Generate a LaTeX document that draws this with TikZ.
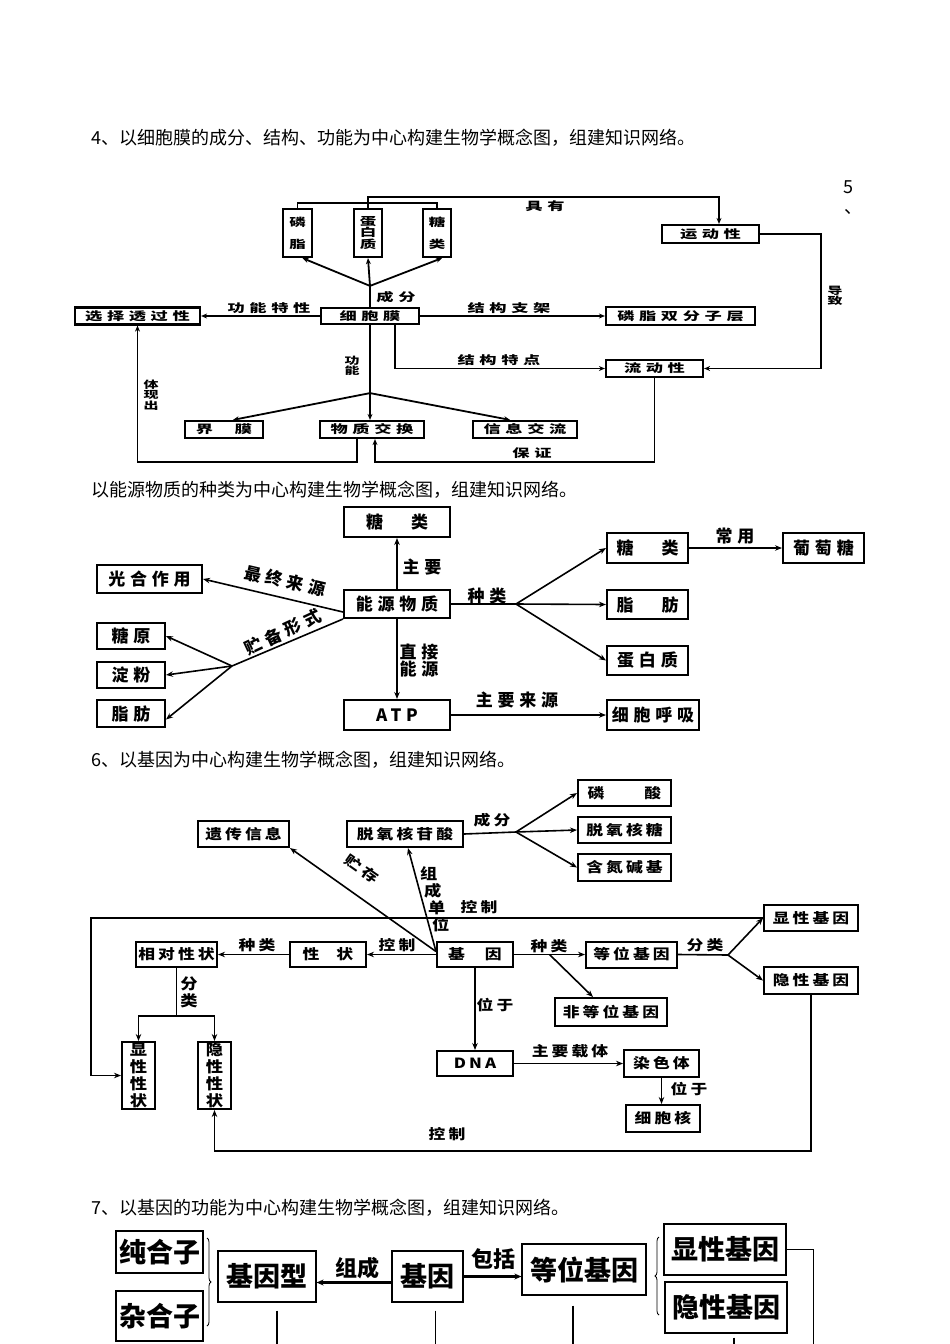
\documentclass[tikz,border=0pt]{standalone}
\usepackage{fontspec}
\setmainfont{Noto Sans CJK SC}
\newfontfamily\cjkhead{Noto Sans CJK SC}
\newfontfamily\cjkplain{Noto Sans CJK SC}
\newfontfamily\cjkfour{Noto Sans CJK SC}[LetterSpace=40, FakeStretch=1.5]
\newfontfamily\cjkfourv{Noto Sans CJK SC}[FakeStretch=1.5]
\newfontfamily\cjkfive{Noto Sans CJK SC}[LetterSpace=28]
\newfontfamily\cjksix{Noto Sans CJK SC}[LetterSpace=22, FakeStretch=1.2]
\newfontfamily\cjksixv{Noto Sans CJK SC}[FakeStretch=1.15]
\usetikzlibrary{arrows.meta,positioning,calc,decorations.pathreplacing}

\newcommand\fhead{\cjkhead\fontsize{18}{20}\selectfont}
\newcommand\ffour{\cjkfour\bfseries\fontsize{11.5}{13}\selectfont}
\newcommand\vfour{\cjkfourv\bfseries\fontsize{11}{11.7}\selectfont}
\newcommand\vsmall{\cjkfourv\bfseries\fontsize{10}{10.5}\selectfont}
\newcommand\ffive{\cjkfive\bfseries\fontsize{17}{17}\selectfont}
\newcommand\fsix{\cjksix\bfseries\fontsize{14}{16}\selectfont}
\newcommand\vsix{\cjksixv\bfseries\fontsize{15}{17}\selectfont}
\newcommand\fseven{\cjkplain\bfseries\fontsize{27}{29}\selectfont}

\tikzset{
  head/.style={inner sep=0pt, font=\fhead},
  box4/.style={draw, line width=2.2pt, inner sep=0pt, align=center, font=\ffour},
  lbl4/.style={inner sep=0pt, font=\ffour},
  vlbl4/.style={inner sep=0pt, align=center, font=\vsmall},
  line4/.style={line width=1.8pt},
  arr4/.style={line4, -{Stealth[length=6pt,width=5pt]}},
  box5/.style={draw, line width=2pt, inner sep=0pt, align=center, font=\ffive},
  lbl5/.style={inner sep=0pt, align=center, font=\ffive},
  line5/.style={line width=1.6pt},
  arr5/.style={line5, -{Stealth[length=7pt,width=5.5pt]}},
  box6/.style={draw, line width=2pt, inner sep=0pt, align=center, font=\fsix},
  box6v/.style={box6, font=\vsix},
  lbl6/.style={inner sep=0pt, font=\fsix},
  vlbl6/.style={inner sep=0pt, align=center, font=\vsix},
  line6/.style={line width=1.6pt},
  arr6/.style={line6, -{Stealth[length=7pt,width=5.5pt]}},
  box7/.style={draw, line width=1.2pt, inner sep=0pt, font=\fseven},
  lbl7/.style={inner sep=0pt, font=\cjkplain\bfseries\fontsize{22}{24}\selectfont},
  line7/.style={line width=1.5pt},
  arr7/.style={line width=2.4pt, -{Stealth[length=7pt,width=6pt]}},
  brace7/.style={decorate, decoration={brace, amplitude=4pt}, line width=0.8pt}
}

\begin{document}
\begin{tikzpicture}[x=1pt,y=-1pt]
\useasboundingbox (0,0) rectangle (950,1344);
\fill[white] (0,0) rectangle (950,1344);
\clip (0,0) rectangle (950,1344);

% headings
\node[head, anchor=west] (h4) at (91,138) {4、以细胞膜的成分、结构、功能为中心构建生物学概念图，组建知识网络。};
\node[head] (h5a) at (848,187) {5};
\node[head] (h5b) at (853,212) {、};
\node[head, anchor=west] (h5) at (91,490) {以能源物质的种类为中心构建生物学概念图，组建知识网络。};
\node[head, anchor=west] (h6) at (91,760) {6、以基因为中心构建生物学概念图，组建知识网络。};
\node[head, anchor=west] (h7) at (91,1208) {7、以基因的功能为中心构建生物学概念图，组建知识网络。};

% cell membrane
\node[box4, minimum width=29pt, minimum height=48pt, font=\vfour] (phos) at (297.5,233) {磷\\[10pt]脂};
\node[box4, minimum width=28pt, minimum height=48pt, font=\vfour] (prot) at (368,233) {蛋\\白\\质};
\node[box4, minimum width=28pt, minimum height=48pt, font=\vfour] (sugar) at (437,233) {糖\\[10pt]类};
\node[box4, minimum width=97pt, minimum height=18pt] (motion) at (710.5,234) {运动性};
\node[box4, minimum width=98pt, minimum height=16pt] (memb) at (370,316) {细胞膜};
\node[box4, minimum width=125pt, minimum height=17pt] (selperm) at (137.5,316) {选择透过性};
\node[box4, minimum width=149pt, minimum height=18pt] (bilayer) at (680.5,316) {磷脂双分子层};
\node[box4, minimum width=97pt, minimum height=17pt] (fluid) at (654.5,368.5) {流动性};
\node[box4, minimum width=78pt, minimum height=17pt] (bound) at (224,429.5) {界\hspace{22pt}膜};
\node[box4, minimum width=104pt, minimum height=17pt] (exch) at (372,429.5) {物质交换};
\node[box4, minimum width=104pt, minimum height=17pt] (info) at (525,429.5) {信息交流};

\coordinate (fan1) at ($(memb.north)+(0,-21)$);
\draw[line4] (memb.north) -- (fan1);
\draw[arr4] (fan1) -- ($(phos.south)+(5,0)$);
\draw[arr4] (fan1) -- (prot.south);
\draw[arr4] (fan1) -- ($(sugar.south)+(5,0)$);
\node[lbl4] (l4a) at (396,297) {成分};
\draw[line4] (phos.north) -- ++(0,-5) -| (sugar.north);
\coordinate (topr) at (719,197);
\draw[arr4] (prot.north) |- (topr) -- (topr |- motion.north);
\node[lbl4] (l4b) at (545,206) {具有};
\draw[arr4] (motion.east) -- ++(61,0) |- (fluid.east);
\node[vlbl4] (l4c) at (835,296) {导\\致};
\draw[arr4] (memb.west) -- (selperm.east);
\node[lbl4] (l4d) at (269,308) {功能特性};
\draw[arr4] (memb.east) -- (bilayer.west);
\node[lbl4] (l4e) at (509,308) {结构支架};
\draw[arr4] ($(memb.south)+(25,0)$) |- (fluid.west);
\node[lbl4] (l4f) at (499,360) {结构特点};
\draw[arr4] (memb.south) -- (memb.south |- exch.north);
\node[vlbl4] (l4g) at (352,366) {功\\能};
\coordinate (fan2) at ($(memb.south)+(0,68)$);
\draw[arr4] (fan2) -- ($(bound.north)+(9,0)$);
\draw[arr4] (fan2) -- ($(info.north)+(-15,0)$);
\draw[arr4] ($(exch.south)+(-15,0)$) -- ++(0,23) -| (selperm.south);
\node[vlbl4] (l4h) at (151,395) {体\\现\\出};
\draw[arr4] (fluid.south) -- ++(0,84) -| ($(exch.south)+(3,0)$);
\node[lbl4] (l4i) at (532,453) {保证};

% energy substances
\node[box5, minimum width=106pt, minimum height=30pt] (sugar5) at (397,522) {糖\hspace{28pt}类};
\node[box5, minimum width=105pt, minimum height=28pt] (photo) at (149.5,579) {光合作用};
\node[box5, minimum width=106pt, minimum height=28pt] (energy) at (397,604) {能源物质};
\node[box5, minimum width=68pt, minimum height=26pt] (glycogen) at (131,636) {糖原};
\node[box5, minimum width=68pt, minimum height=26pt] (starch) at (131,675) {淀粉};
\node[box5, minimum width=68pt, minimum height=27pt] (fat) at (131,713.5) {脂肪};
\node[box5, minimum width=106pt, minimum height=30pt] (atp) at (397,715) {ATP};
\node[box5, minimum width=81pt, minimum height=30pt] (carb) at (647.5,548) {糖\hspace{28pt}类};
\node[box5, minimum width=81pt, minimum height=30pt] (glucose) at (823.5,548) {葡萄糖};
\node[box5, minimum width=81pt, minimum height=29pt] (lipid) at (647.5,604.5) {脂\hspace{28pt}肪};
\node[box5, minimum width=81pt, minimum height=29pt] (protein) at (647.5,660.5) {蛋白质};
\node[box5, minimum width=92pt, minimum height=30pt] (resp) at (653,715) {细胞呼吸};

\draw[arr5] (energy.north) -- (sugar5.south);
\node[lbl5] (l5a) at (422,567) {主要};
\draw[arr5] ($(energy.west)+(0,8)$) -- (photo.east);
\node[lbl5, rotate=-13] (l5b) at (285,581) {最终来源};
\coordinate (fan3) at (232,666);
\draw[line5] (energy.south west) -- (fan3);
\node[lbl5, rotate=25] (l5c) at (283,632) {贮备形式};
\draw[arr5] (fan3) -- (glycogen.east);
\draw[arr5] (fan3) -- (starch.east);
\draw[arr5] (fan3) -- ($(fat.east)+(0,6)$);
\draw[arr5] (energy.south) -- (atp.north);
\node[lbl5] (l5d) at (419,661) {直接\\能源};
\coordinate (fan4) at (516,604);
\draw[line5] (energy.east) -- (fan4);
\node[lbl5] (l5e) at (487,596) {种类};
\draw[arr5] (fan4) -- (carb.west);
\draw[arr5] (fan4) -- (lipid.west);
\draw[arr5] (fan4) -- (protein.west);
\draw[arr5] (carb.east) -- (glucose.west);
\node[lbl5] (l5f) at (735,536) {常用};
\draw[arr5] (atp.east) -- (resp.west);
\node[lbl5] (l5g) at (517,700) {主要来源};

% gene
\node[box6, minimum width=91pt, minimum height=26pt] (herit) at (243.5,834) {遗传信息};
\node[box6, minimum width=116pt, minimum height=26pt] (dnuc) at (405,834) {脱氧核苷酸};
\node[box6, minimum width=93pt, minimum height=26pt] (phosac) at (624.5,793) {磷\hspace{40pt}酸};
\node[box6, minimum width=93pt, minimum height=26pt] (deox) at (624.5,830) {脱氧核糖};
\node[box6, minimum width=93pt, minimum height=27pt] (nbase) at (624.5,867.5) {含氮碱基};
\node[box6, minimum width=81pt, minimum height=25pt] (relt) at (176.5,954.5) {相对性状};
\node[box6, minimum width=76pt, minimum height=25pt] (trait) at (328,954.5) {性\hspace{17pt}状};
\node[box6, minimum width=76pt, minimum height=25pt] (gene) at (475,954.5) {基\hspace{20pt}因};
\node[box6, minimum width=91pt, minimum height=26pt] (allele) at (631.5,954.5) {等位基因};
\node[box6, minimum width=94pt, minimum height=26pt] (domg) at (811,918) {显性基因};
\node[box6, minimum width=94pt, minimum height=27pt] (recg) at (811,980.5) {隐性基因};
\node[box6, minimum width=112pt, minimum height=28pt] (nonal) at (611,1012) {非等位基因};
\node[box6, minimum width=76pt, minimum height=25pt] (dna) at (475,1063.5) {DNA};
\node[box6, minimum width=75pt, minimum height=27pt] (chrom) at (661.5,1063.5) {染色体};
\node[box6, minimum width=74pt, minimum height=27pt] (nucl) at (663,1118.5) {细胞核};
\node[box6v, minimum width=33pt, minimum height=67pt] (domt) at (138.5,1075.5) {显\\性\\性\\状};
\node[box6v, minimum width=33pt, minimum height=67pt] (rect) at (214.5,1075.5) {隐\\性\\性\\状};

\coordinate (fan5) at (516,832);
\draw[line6] (dnuc.east) -- (fan5);
\node[lbl6] (l6a) at (492,820) {成分};
\draw[arr6] (fan5) -- (phosac.west);
\draw[arr6] (fan5) -- (deox.west);
\draw[arr6] (fan5) -- (nbase.west);
\coordinate (gsrc) at ($(gene.west)+(0,-3)$);
\draw[arr6] (gsrc) -- (herit.south east);
\draw[arr6] (gsrc) -- ($(dnuc.south)+(3,0)$);
\node[lbl6, rotate=-35] (l6b) at (362,869) {贮\hspace{4pt}存};
\node[vlbl6, anchor=north west, align=left] (l6c) at (420,866) {组\\\hspace{4pt}成\\\hspace{8pt}单\\\hspace{12pt}位};
\draw[arr6] (domg.west) -- ++(-672,0) |- (domt.west);
\node[lbl6] (l6d) at (479,907) {控制};
\draw[arr6] (gene.west) -- (trait.east);
\node[lbl6] (l6e) at (397,945) {控制};
\draw[arr6] (trait.west) -- (relt.east);
\node[lbl6] (l6f) at (257,945) {种类};
\coordinate (split) at ($(relt.south)+(0,48)$);
\draw[line6] (relt.south) -- (split);
\draw[arr6] (split) -| (domt.north);
\draw[arr6] (split) -| (rect.north);
\node[vlbl6] (l6g) at (189,992) {分\\类};
\draw[arr6] (gene.east) -- (allele.west);
\node[lbl6] (l6h) at (549,946) {种类};
\draw[arr6] ($(gene.east)!0.5!(allele.west)$) -- ($(nonal.north)+(-18,0)$);
\coordinate (fan6) at (728,955);
\draw[line6] (allele.east) -- (fan6);
\node[lbl6] (l6i) at (705,945) {分类};
\draw[arr6] (fan6) -- (domg.west);
\draw[arr6] (fan6) -- (recg.west);
\draw[arr6] (gene.south) -- (dna.north);
\node[lbl6] (l6j) at (495,1005) {位于};
\draw[arr6] (dna.east) -- (chrom.west);
\node[lbl6] (l6k) at (570,1051) {主要载体};
\draw[arr6] (chrom.south) -- (chrom.south |- nucl.north);
\node[lbl6] (l6l) at (689,1089) {位于};
\draw[arr6] (recg.south) -- ++(0,156) -| (rect.south);
\node[lbl6] (l6m) at (447,1134) {控制};

% gene function
\node[box7, minimum width=87pt, minimum height=42pt] (homo) at (159.5,1252) {纯合子};
\node[box7, minimum width=87pt, minimum height=50pt] (hetero) at (159.5,1316) {杂合子};
\node[box7, minimum width=98pt, minimum height=51pt] (geno) at (267,1276.5) {基因型};
\node[box7, minimum width=71pt, minimum height=51pt] (gene7) at (427.5,1276.5) {基因};
\node[box7, minimum width=124pt, minimum height=51pt] (allele7) at (584,1269.5) {等位基因};
\node[box7, minimum width=122pt, minimum height=51pt] (dom7) at (725,1249.5) {显性基因};
\node[box7, minimum width=122pt, minimum height=51pt] (rec7) at (726,1307.5) {隐性基因};
\draw[brace7] (207,1238) -- (207,1326);
\draw[brace7] (659,1315) -- (659,1237);
\draw[arr7] ($(gene7.west)+(0,6)$) -- ($(geno.east)+(0,6)$);
\node[lbl7] (l7a) at (357,1268) {组成};
\draw[arr7] (gene7.east) -- (gene7.east -| allele7.west);
\node[lbl7] (l7b) at (493,1259) {包括};
\draw[line7] ($(geno.south)+(10,8)$) -- ++(0,40);
\draw[line7] ($(gene7.south)+(8,8)$) -- ++(0,40);
\draw[line7] ($(allele7.south)+(-11,10)$) -- ++(0,40);
\draw[line7] ($(rec7.south)+(8,4)$) -- ++(0,12);
\draw[line7] (dom7.east) -- ++(27,0) -- ++(0,120);
\end{tikzpicture}
\end{document}
